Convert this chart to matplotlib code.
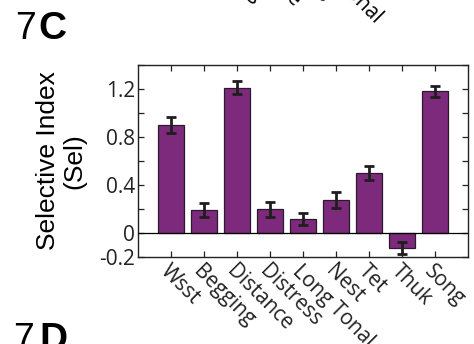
import numpy as np
import matplotlib.pyplot as plt

# selectivity index per call type
call_types = ["Wsst", "Begging", "Distance", "Distress", "Long Tonal",
              "Nest", "Tet", "Thuk", "Song"]
sel_index = [0.90, 0.19, 1.21, 0.195, 0.115, 0.27, 0.50, -0.13, 1.18]
sel_err = [0.07, 0.055, 0.053, 0.06, 0.053, 0.068, 0.059, 0.052, 0.046]

BAR_COLOR = "#7d2a7d"
TICK_FONT = "Open Sans"
LABEL_FONT = "Liberation Sans"

fig = plt.figure(figsize=(4.74, 3.44), dpi=100)
ax = fig.add_axes([0.291, 0.254, 0.696, 0.557])

x = np.arange(1, len(call_types) + 1)
ax.bar(x, sel_index, width=0.8, color=BAR_COLOR, edgecolor="#2a1a2a",
       linewidth=0.9, zorder=2)
ax.errorbar(x, sel_index, yerr=sel_err, fmt="none", ecolor="#1e1e1e",
            elinewidth=2.0, capsize=3.5, capthick=2.0, zorder=3)
ax.axhline(0, color="black", linewidth=0.9, zorder=4)

ax.set_xlim(0, 10)
ax.set_ylim(-0.2, 1.4)
ax.set_yticks(np.arange(-0.2, 1.41, 0.2))
ax.set_yticklabels(["-0.2", "0", "", "0.4", "", "0.8", "", "1.2", ""],
                   fontfamily=TICK_FONT, fontsize=15)
ax.set_xticks(x)
ax.set_xticklabels(call_types, rotation=-45, ha="left", va="top",
                   rotation_mode="anchor", fontfamily=TICK_FONT, fontsize=15)
ax.tick_params(direction="in", length=4, width=0.9, top=True, right=True,
               pad=2, colors="#222222")
ax.tick_params(axis="x", pad=3)
for sp in ax.spines.values():
    sp.set_linewidth(1.0)
    sp.set_color("#222222")

ax.set_ylabel("Selective Index\n(Sel)", fontfamily=LABEL_FONT, fontsize=19,
              linespacing=1.1)
ax.yaxis.set_label_coords(-0.157, 0.5)

# the neighbouring panel's labels above, mostly cropped away
ghost = fig.add_axes([0.308, 1.21, 0.696, 0.3])
ghost.set_xlim(0, 10)
ghost.set_xticks(x)
ghost.set_xticklabels(call_types, rotation=-45, ha="left", va="top",
                      rotation_mode="anchor", fontfamily=TICK_FONT, fontsize=15)
ghost.tick_params(length=0, pad=7, labelleft=False, left=False)
ghost.set_frame_on(False)

# panel letters
fig.text(0.032, 0.888, "7", fontfamily=LABEL_FONT, fontsize=27, va="baseline")
fig.text(0.082, 0.888, "C", fontfamily=LABEL_FONT, fontsize=28,
         fontweight="bold", va="baseline")
fig.text(0.028, -0.018, "7", fontfamily=LABEL_FONT, fontsize=27, va="baseline")
fig.text(0.084, -0.018, "D", fontfamily=LABEL_FONT, fontsize=28,
         fontweight="bold", va="baseline")

fig.savefig("out.png", dpi=100)
